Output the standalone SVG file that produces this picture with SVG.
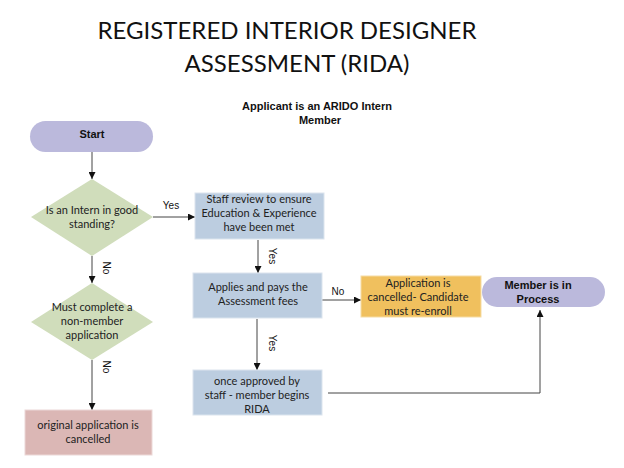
<svg xmlns="http://www.w3.org/2000/svg" width="624" height="468" viewBox="0 0 624 468">
<style>
.t{font-family:Lato,"Liberation Sans",sans-serif;font-size:11px;fill:#222;text-anchor:middle}
.b{font-family:"Liberation Sans",Arial,sans-serif;font-size:11px;font-weight:bold;fill:#111;text-anchor:middle}
.l{font-family:"Liberation Sans",Arial,sans-serif;font-size:10px;fill:#111;text-anchor:middle}
.c{fill:none;stroke:#444;stroke-width:1}
.box{fill:#bccde0;stroke:#dbe4ee;stroke-width:1}
</style>
<defs><marker id="a" viewBox="0 0 10 10" refX="10" refY="5" markerWidth="7" markerHeight="7" orient="auto"><path d="M0,0L10,5L0,10z" fill="#111"/></marker></defs>
<rect width="624" height="468" fill="#fff"/>
<text x="287" y="39" font-family="Lato,'Liberation Sans',sans-serif" font-size="24" text-anchor="middle" fill="#111">REGISTERED INTERIOR DESIGNER</text>
<text x="297" y="72" font-family="Lato,'Liberation Sans',sans-serif" font-size="24" text-anchor="middle" fill="#111">ASSESSMENT (RIDA)</text>
<text class="b" x="317" y="110">Applicant is an ARIDO Intern</text>
<text class="b" x="320" y="124">Member</text>
<g id="connectors">
<path class="c" d="M92,152V179" marker-end="url(#a)"/>
<path class="c" d="M153,217H195" marker-end="url(#a)"/>
<path class="c" d="M258,240V273" marker-end="url(#a)"/>
<path class="c" d="M92,256V283" marker-end="url(#a)"/>
<path class="c" d="M92,360V410" marker-end="url(#a)"/>
<path class="c" d="M322,300H361" marker-end="url(#a)"/>
<path class="c" d="M257,319V370" marker-end="url(#a)"/>
<path class="c" d="M328,393H540V310" marker-end="url(#a)"/>
<text class="l" x="171" y="209">Yes</text>
<text class="l" x="338" y="295">No</text>
<text class="l" transform="translate(269,256) rotate(90)">Yes</text>
<text class="l" transform="translate(103,268) rotate(90)">No</text>
<text class="l" transform="translate(103,367) rotate(90)">No</text>
<text class="l" transform="translate(269,343) rotate(90)">Yes</text>
</g>
<g id="start"><rect x="30" y="121" width="123" height="31" rx="15.5" fill="#bbb9dc"/><text class="b" x="92" y="138">Start</text></g>
<g id="d1"><path d="M92,179L153,217L92,256L31,217z" fill="#d0ddbb"/><text class="t" x="92" y="214">Is an Intern in good</text><text class="t" x="92" y="228">standing?</text></g>
<g id="d2"><path d="M92,283L153,322L92,360L31,322z" fill="#d0ddbb"/><text class="t" x="92" y="311">Must complete a</text><text class="t" x="92" y="325">non-member</text><text class="t" x="92" y="339">application</text></g>
<g id="orig"><rect x="25" y="410" width="127" height="45" fill="#dbb7b5" stroke="#ecd8d7"/><text class="t" x="88" y="429">original application is</text><text class="t" x="88" y="443">cancelled</text></g>
<g id="staff"><rect class="box" x="195" y="193" width="129" height="46"/><text class="t" x="259" y="203">Staff review to ensure</text><text class="t" x="259" y="217">Education &amp; Experience</text><text class="t" x="259" y="231">have been met</text></g>
<g id="applies"><rect class="box" x="193" y="273" width="129" height="45"/><text class="t" x="258" y="291">Applies and pays the</text><text class="t" x="258" y="305">Assessment fees</text></g>
<g id="approved"><rect class="box" x="193" y="370" width="129" height="45"/><text class="t" x="257" y="385">once approved by</text><text class="t" x="257" y="399">staff - member begins</text><text class="t" x="257" y="413">RIDA</text></g>
<g id="cancelled"><rect x="361" y="276" width="120" height="41" fill="#f0c05e" stroke="#f6dca3"/><text class="t" x="418" y="287">Application is</text><text class="t" x="418" y="301">cancelled- Candidate</text><text class="t" x="418" y="315">must re-enroll</text></g>
<g id="member"><rect x="482" y="277" width="123" height="30" rx="15" fill="#bbb9dc"/><text class="b" x="538" y="289">Member is in</text><text class="b" x="538" y="303">Process</text></g>
</svg>
